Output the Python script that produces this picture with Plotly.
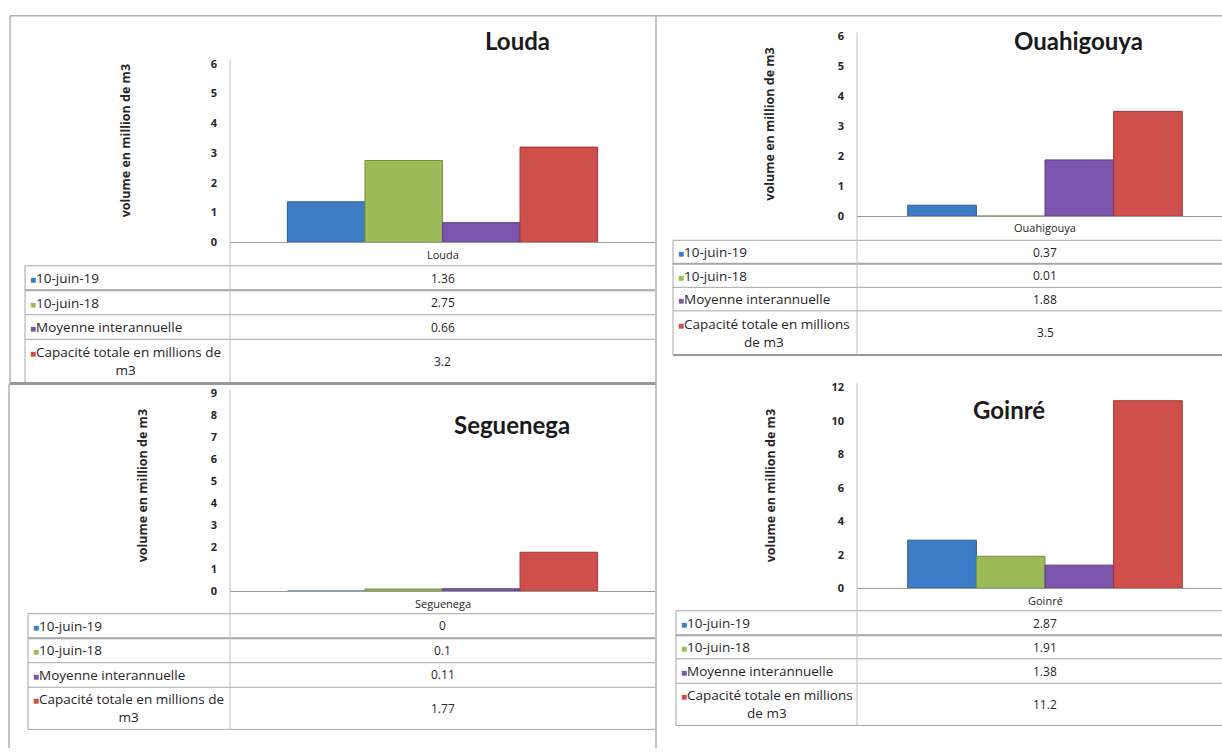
import plotly.graph_objects as go

# ---------------- data ----------------
sites = ["Louda", "Ouahigouya", "Seguenega", "Goinré"]
series_names = ["10-juin-19", "10-juin-18", "Moyenne interannuelle",
                "Capacité totale en millions de m3"]
juin19 = [1.36, 0.37, 0, 2.87]
juin18 = [2.75, 0.01, 0.1, 1.91]
moyenne = [0.66, 1.88, 0.11, 1.38]
capacite = [3.2, 3.5, 1.77, 11.2]
y_max = [6, 6, 9, 12]
y_step = [1, 1, 1, 2]
y_title = "volume en million de m3"
series_values = [juin19, juin18, moyenne, capacite]

# ---------------- style ----------------
W, H = 1222, 755
colors = ["#3F7CC6", "#9BBB59", "#7B55AE", "#CF4F4C"]
edge = ["#2B5A94", "#76923C", "#5A3C84", "#9E3532"]
FONT = "Open Sans"
TFONT = "Lato"
TXT = "#262626"

# panel geometry in pixels (layout only)
panels = [
    dict(left=230, right=655, cat_w=425, zero=239, top=57, tleft=25,
         rows=[263, 288, 313, 338, 383], hdr=252, title=(517, 33), yt=(125, 136),
         wrap="Capacité totale en millions de<br>m3"),
    dict(left=857, right=1222, cat_w=376, zero=212.5, top=29, tleft=673,
         rows=[237, 261, 285, 309, 354], hdr=224, title=(1078, 33), yt=(770, 119),
         wrap="Capacité totale en millions<br>de m3"),
    dict(left=230, right=655, cat_w=425, zero=595, top=393, tleft=28,
         rows=[618, 643, 668, 693, 736], hdr=608, title=(512, 425), yt=(142, 488),
         wrap="Capacité totale en millions de<br>m3"),
    dict(left=857, right=1222, cat_w=376, zero=592, top=387, tleft=676,
         rows=[615, 640, 664, 689, 732], hdr=604, title=(1009, 410), yt=(770, 488),
         wrap="Capacité totale en millions<br>de m3"),
]


def px(x):
    return x / W


def py(y):
    return 1 - y / H


fig = go.Figure()
shapes = []
annotations = []


def hline(y, x0, x1, color="#A6A6A6", width=1):
    shapes.append(dict(type="line", xref="paper", yref="paper", x0=px(x0), x1=px(x1),
                       y0=py(y), y1=py(y), line=dict(color=color, width=width)))


def vline(x, y0, y1, color="#A6A6A6", width=1):
    shapes.append(dict(type="line", xref="paper", yref="paper", x0=px(x), x1=px(x),
                       y0=py(y0), y1=py(y1), line=dict(color=color, width=width)))


layout_axes = {}
for i, (site, p) in enumerate(zip(sites, panels)):
    n = "" if i == 0 else str(i + 1)
    for s in range(4):
        fig.add_trace(go.Bar(
            x=[site], y=[series_values[s][i]], name=series_names[s],
            marker=dict(color=colors[s], line=dict(color=edge[s], width=1)),
            xaxis="x" + n, yaxis="y" + n, showlegend=False,
            hovertemplate="%{y}<extra>" + series_names[s] + "</extra>"))
    width_px = p["right"] - p["left"]
    layout_axes["xaxis" + n] = dict(
        domain=[px(p["left"]), px(p["right"])], type="category",
        range=[-0.5, -0.5 + width_px / p["cat_w"]], anchor="y" + n,
        showticklabels=False, showgrid=False, zeroline=False,
        showline=True, linecolor="#9A9A9A", linewidth=1, ticks="")
    layout_axes["yaxis" + n] = dict(
        domain=[py(p["zero"]), py(p["top"])], range=[0, y_max[i]], anchor="x" + n,
        tickmode="array", tickvals=list(range(0, y_max[i] + 1, y_step[i])),
        showgrid=False, zeroline=False, showline=False, ticks="",
        ticklabelstandoff=12,
        tickfont=dict(family=FONT, size=11, color=TXT, weight="bold"))

    # chart title
    annotations.append(dict(x=px(p["title"][0]), y=py(p["title"][1]), xref="paper", yref="paper",
                            text=site, showarrow=False, xanchor="center", yanchor="middle",
                            font=dict(family=TFONT, size=24, color="#1a1a1a", weight="bold")))
    # y axis title
    annotations.append(dict(x=px(p["yt"][0]), y=py(p["yt"][1]), xref="paper", yref="paper",
                            text=y_title, showarrow=False, textangle=-90,
                            xanchor="center", yanchor="middle",
                            font=dict(family=FONT, size=12.5, color=TXT, weight="bold")))
    # category label (table header)
    center = p["left"] + p["cat_w"] / 2
    annotations.append(dict(x=px(center), y=py(p["hdr"]), xref="paper", yref="paper",
                            text=site, showarrow=False, xanchor="center", yanchor="middle",
                            font=dict(family=FONT, size=11, color=TXT)))
    # data table
    rows = p["rows"]
    for r in range(4):
        yc = (rows[r] + rows[r + 1]) / 2
        label = series_names[r] if r < 3 else p["wrap"]
        annotations.append(dict(
            x=px(p["tleft"] + 3), y=py(yc), xref="paper", yref="paper",
            text='<span style="color:%s;font-size:10px">■</span>%s' % (colors[r], label),
            showarrow=False, xanchor="left", yanchor="middle", align="center",
            font=dict(family=FONT, size=13.5, color=TXT)))
        annotations.append(dict(
            x=px(center), y=py(yc), xref="paper", yref="paper",
            text=f"{series_values[r][i]:g}", showarrow=False,
            xanchor="center", yanchor="middle",
            font=dict(family=FONT, size=12, color=TXT)))
    for k, yline in enumerate(rows):
        hline(yline, p["tleft"], p["right"], width=2 if k in (1,) else 1)
    vline(p["tleft"], rows[0], rows[-1])
    vline(p["left"], p["top"] - 4, rows[-1], color="#BFBFBF")

# panel frames
hline(8, 10, 1222, color="#B0B0B0", width=1.5)
vline(10, 8, 383, color="#B0B0B0", width=1.5)
hline(383, 10, 656, color="#9A9A9A", width=3)
vline(656, 8, 755, color="#B0B0B0", width=1.5)
vline(9, 383, 755, color="#B0B0B0", width=1.5)
hline(354, 673, 1222, color="#9A9A9A", width=2)

fig.update_layout(
    width=W, height=H, margin=dict(l=0, r=0, t=0, b=0),
    paper_bgcolor="white", plot_bgcolor="rgba(0,0,0,0)",
    barmode="group", bargap=0.27, bargroupgap=0,
    shapes=shapes, annotations=annotations,
    **layout_axes)

fig.write_html("out.html", config={"displayModeBar": False},
               post_script="document.body.style.margin='0px';document.body.style.overflow='hidden';")
